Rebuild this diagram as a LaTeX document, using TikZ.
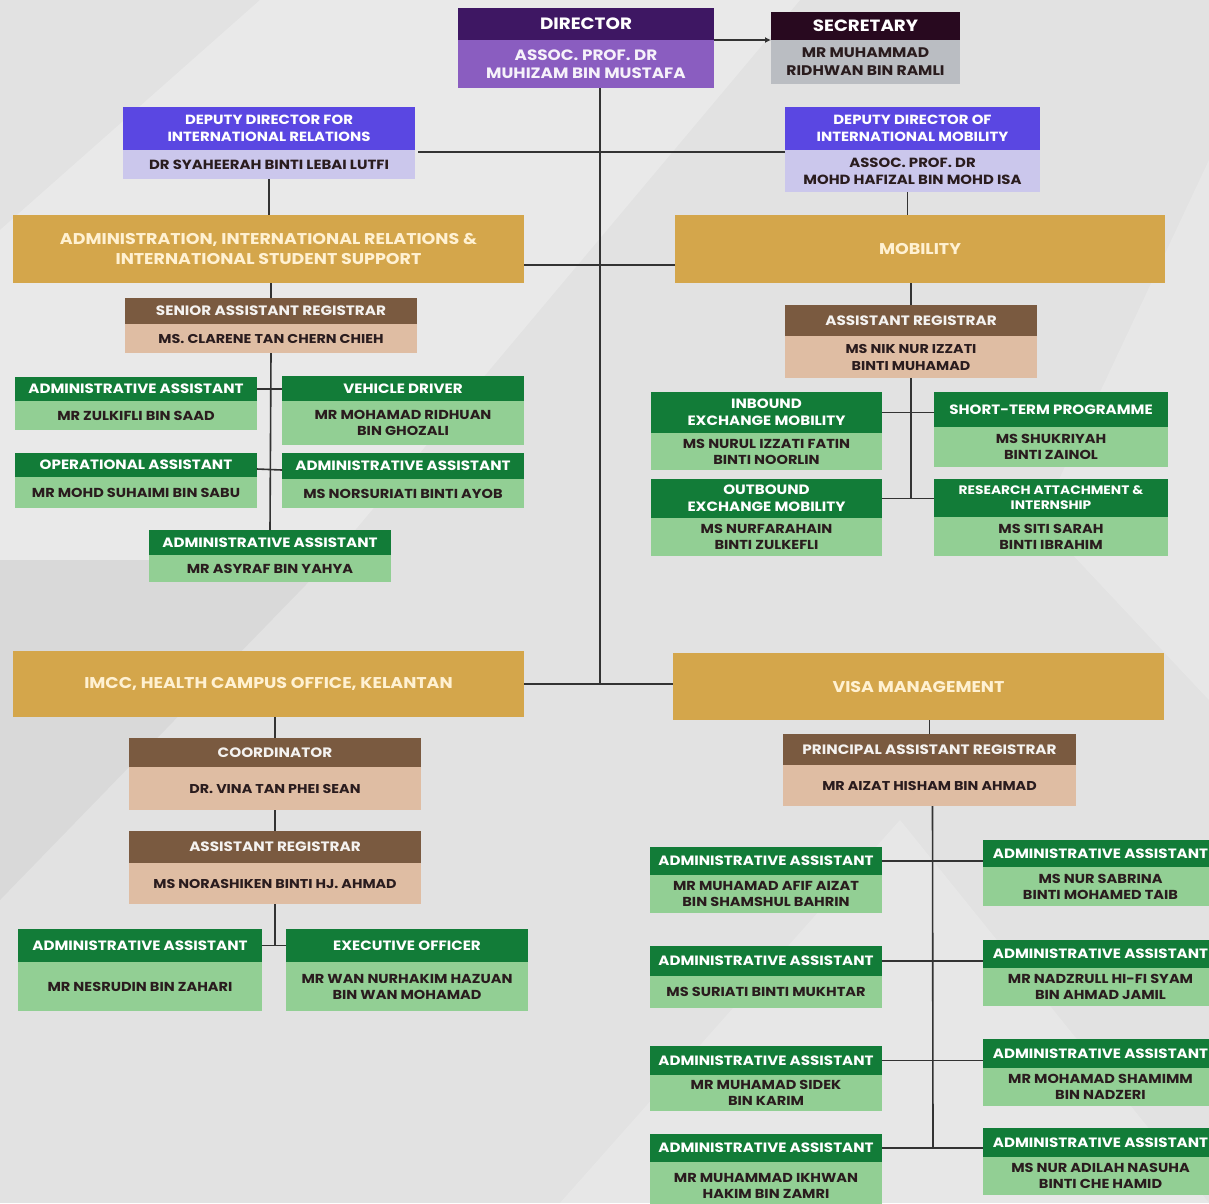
\documentclass[tikz,border=0pt]{standalone}
\usepackage{fontspec}
\setmainfont{Poppins}[FakeStretch=1.12]
\usetikzlibrary{arrows.meta}
\definecolor{dirdark}{HTML}{3E1763}
\definecolor{dirlight}{HTML}{8A5DC0}
\definecolor{secdark}{HTML}{28091F}
\definecolor{seclight}{HTML}{BABDC2}
\definecolor{depdark}{HTML}{5A47E2}
\definecolor{deplight}{HTML}{CBC7EC}
\definecolor{gold}{HTML}{D4A64B}
\definecolor{goldtext}{HTML}{FFF1D2}
\definecolor{regdark}{HTML}{7A5A40}
\definecolor{reglight}{HTML}{DFBDA3}
\definecolor{stfdark}{HTML}{127C38}
\definecolor{stflight}{HTML}{92CF94}
\definecolor{ink}{HTML}{2A1C1E}
\definecolor{bg}{HTML}{E2E2E2}
% card: name, x1, x2, y top, y split, y bottom, kind, title, person
\newcommand\card[9]{%
  \pgfmathsetmacro\cw{#3-#2}\pgfmathsetmacro\ch{#5-#4}\pgfmathsetmacro\cb{#6-#5}%
  \node[#7hd, minimum width=\cw pt, minimum height=\ch pt] (#1) at (#2,#4) {#8};
  \node[#7bd, minimum width=\cw pt, minimum height=\cb pt] (#1b) at (#2,#5) {#9};
}
\begin{document}
\begin{tikzpicture}[x=1pt, y=-1pt,
    ln/.style={draw=black!80, line width=1.6pt},
    box/.style={anchor=north west, inner sep=0pt, outer sep=0pt, align=center},
    dirhd/.style={box, fill=dirdark, text=white, font=\bfseries\fontsize{16.4}{18}\selectfont},
    dirbd/.style={box, fill=dirlight, text=white!92!dirlight, font=\bfseries\fontsize{15}{18}\selectfont},
    sechd/.style={box, fill=secdark, text=white, font=\bfseries\fontsize{16.3}{17}\selectfont},
    secbd/.style={box, fill=seclight, text=ink, font=\bfseries\fontsize{13.9}{18}\selectfont},
    dephd/.style={box, fill=depdark, text=white, font=\bfseries\fontsize{13.3}{17}\selectfont},
    depbd/.style={box, fill=deplight, text=ink, font=\bfseries\fontsize{13.3}{17}\selectfont},
    reghd/.style={box, fill=regdark, text=white!92!regdark, font=\bfseries\fontsize{13.6}{16}\selectfont},
    regbd/.style={box, fill=reglight, text=ink, font=\bfseries\fontsize{12.8}{17}\selectfont},
    stfhd/.style={box, fill=stfdark, text=white, font=\bfseries\fontsize{13.5}{17}\selectfont},
    stfbd/.style={box, fill=stflight, text=ink, font=\bfseries\fontsize{13}{16}\selectfont},
    stfshd/.style={stfhd, font=\bfseries\fontsize{12.3}{15}\selectfont},
    stfsbd/.style={stfbd},
    unit/.style={box, fill=gold, text=goldtext, font=\bfseries\fontsize{15.6}{20}\selectfont}]
\useasboundingbox (0,0) rectangle (1209,1203);
\clip (0,0) rectangle (1209,1203);
\fill[bg] (0,0) rectangle (1209,1203);
\fill[white, opacity=.25] (260,0) -- (800,0) -- (330,560) -- (0,560) -- (0,230) -- cycle;
\fill[white, opacity=.2] (1209,160) -- (1209,700) -- (1040,520) -- cycle;
\fill[black, opacity=.04] (0,560) -- (330,560) -- (0,900) -- cycle;
\fill[white, opacity=.2] (560,1203) -- (900,820) -- (1209,1203) -- cycle;

% top
\card{dir}{458}{714}{8}{40}{88}{dir}{DIRECTOR}{ASSOC. PROF. DR\\MUHIZAM BIN MUSTAFA}
\card{sec}{771}{960}{12}{40}{84}{sec}{SECRETARY}{MR MUHAMMAD\\RIDHWAN BIN RAMLI}
\card{depir}{123}{415}{107}{150}{179}{dep}{DEPUTY DIRECTOR FOR\\INTERNATIONAL RELATIONS}{DR SYAHEERAH BINTI LEBAI LUTFI}
\card{depim}{785}{1040}{107}{150}{192}{dep}{DEPUTY DIRECTOR OF\\INTERNATIONAL MOBILITY}{ASSOC. PROF. DR\\MOHD HAFIZAL BIN MOHD ISA}

% units
\node[unit, minimum width=511pt, minimum height=68pt] (uadm) at (13,215) {ADMINISTRATION, INTERNATIONAL RELATIONS \&\\INTERNATIONAL STUDENT SUPPORT};
\node[unit, minimum width=490pt, minimum height=68pt] (umob) at (675,215) {MOBILITY};
\node[unit, minimum width=511pt, minimum height=66pt] (uimcc) at (13,651) {IMCC, HEALTH CAMPUS OFFICE, KELANTAN};
\node[unit, minimum width=491pt, minimum height=67pt] (uvisa) at (673,653) {VISA MANAGEMENT};

% administration
\card{sar}{125}{417}{298}{324}{353}{reg}{SENIOR ASSISTANT REGISTRAR}{MS. CLARENE TAN CHERN CHIEH}
\card{aa1}{15}{257}{377}{401}{430}{stf}{ADMINISTRATIVE ASSISTANT}{MR ZULKIFLI BIN SAAD}
\card{vd}{282}{524}{376}{401}{445}{stf}{VEHICLE DRIVER}{MR MOHAMAD RIDHUAN\\BIN GHOZALI}
\card{oa}{15}{257}{453}{477}{508}{stf}{OPERATIONAL ASSISTANT}{MR MOHD SUHAIMI BIN SABU}
\card{aa2}{282}{524}{453}{479}{508}{stf}{ADMINISTRATIVE ASSISTANT}{MS NORSURIATI BINTI AYOB}
\card{aa3}{149}{391}{530}{555}{582}{stf}{ADMINISTRATIVE ASSISTANT}{MR ASYRAF BIN YAHYA}

% mobility
\card{ar}{785}{1037}{305}{336}{378}{reg}{ASSISTANT REGISTRAR}{MS NIK NUR IZZATI\\BINTI MUHAMAD}
\card{inb}{651}{882}{392}{433}{470}{stf}{INBOUND\\EXCHANGE MOBILITY}{MS NURUL IZZATI FATIN\\BINTI NOORLIN}
\card{stp}{934}{1168}{392}{427}{467}{stf}{SHORT-TERM PROGRAMME}{MS SHUKRIYAH\\BINTI ZAINOL}
\card{outb}{651}{882}{479}{518}{556}{stf}{OUTBOUND\\EXCHANGE MOBILITY}{MS NURFARAHAIN\\BINTI ZULKEFLI}
\card{rat}{934}{1168}{479}{517}{556}{stfs}{RESEARCH ATTACHMENT \&\\INTERNSHIP}{MS SITI SARAH\\BINTI IBRAHIM}

% imcc
\card{coord}{129}{421}{738}{767}{810}{reg}{COORDINATOR}{DR. VINA TAN PHEI SEAN}
\card{ar2}{129}{421}{831}{863}{904}{reg}{ASSISTANT REGISTRAR}{MS NORASHIKEN BINTI HJ. AHMAD}
\card{aa4}{18}{262}{929}{962}{1011}{stf}{ADMINISTRATIVE ASSISTANT}{MR NESRUDIN BIN ZAHARI}
\card{eo}{286}{528}{929}{962}{1011}{stf}{EXECUTIVE OFFICER}{MR WAN NURHAKIM HAZUAN\\BIN WAN MOHAMAD}

% visa
\card{par}{783}{1076}{734}{765}{806}{reg}{PRINCIPAL ASSISTANT REGISTRAR}{MR AIZAT HISHAM BIN AHMAD}
\card{va1}{650}{882}{847}{875}{913}{stf}{ADMINISTRATIVE ASSISTANT}{MR MUHAMAD AFIF AIZAT\\BIN SHAMSHUL BAHRIN}
\card{va2}{650}{882}{946}{976}{1008}{stf}{ADMINISTRATIVE ASSISTANT}{MS SURIATI BINTI MUKHTAR}
\card{va3}{650}{882}{1046}{1075}{1111}{stf}{ADMINISTRATIVE ASSISTANT}{MR MUHAMAD SIDEK\\BIN KARIM}
\card{va4}{650}{882}{1134}{1162}{1210}{stf}{ADMINISTRATIVE ASSISTANT}{MR MUHAMMAD IKHWAN\\HAKIM BIN ZAMRI}
\card{vb1}{983}{1218}{840}{867}{906}{stf}{ADMINISTRATIVE ASSISTANT}{MS NUR SABRINA\\BINTI MOHAMED TAIB}
\card{vb2}{983}{1218}{940}{968}{1006}{stf}{ADMINISTRATIVE ASSISTANT}{MR NADZRULL HI-FI SYAM\\BIN AHMAD JAMIL}
\card{vb3}{983}{1218}{1039}{1068}{1106}{stf}{ADMINISTRATIVE ASSISTANT}{MR MOHAMAD SHAMIMM\\BIN NADZERI}
\card{vb4}{983}{1218}{1128}{1157}{1195}{stf}{ADMINISTRATIVE ASSISTANT}{MS NUR ADILAH NASUHA\\BINTI CHE HAMID}

% connectors
\coordinate (trunk) at (600,683);
\coordinate (j1) at (600,265);
\draw[ln] (dirb.south -| trunk) -- (trunk);
\draw[ln, -{Latex[length=6pt,width=6pt]}] (dir.south east) -- (sec.south west);
\draw[ln] (depir.south east) ++(3,2) -- (depim.south west |- 0,152);
\draw[ln] (depirb.south) -- (depirb.south |- uadm.north);
\draw[ln] (depimb.south) ++(-5,0) -- ++(0,23);
\draw[ln] (uadm.east |- j1) -- (umob.west |- j1);
\draw[ln] (uimcc.east) -- (uvisa.west |- uimcc.east);
\draw[ln] (sar.north |- uadm.south) -- (sar.north);
\draw[ln] (sarb.south) -- (aa3.north);
\draw[ln] (aa1.east) -- (vd.west |- aa1.east);
\draw[ln] (oa.east) ++(0,4) -- (aa2.west |- 0,470);
\draw[ln] (ar.north |- umob.south) -- (ar.north);
\draw[ln] (arb.south) -- (arb.south |- outb.east);
\draw[ln] (inb.east) -- (stp.west |- inb.east);
\draw[ln] (outb.east) -- (rat.west |- outb.east);
\draw[ln] (coord.north |- uimcc.south) -- (coord.north);
\draw[ln] (coordb.south) -- (ar2.north);
\draw[ln] (ar2b.south) -- (ar2b.south |- aa4.east);
\draw[ln] (aa4.east) -- (eo.west);
\draw[ln] (par.north |- uvisa.south) -- (par.north);
\draw[ln] (parb.south) ++(3,0) -- (933,1148);
\foreach \l/\r in {va1/vb1, va2/vb2, va3/vb3, va4/vb4}
  \draw[ln] (\l.east) -- (\l.east -| \r.west);
\end{tikzpicture}
\end{document}
